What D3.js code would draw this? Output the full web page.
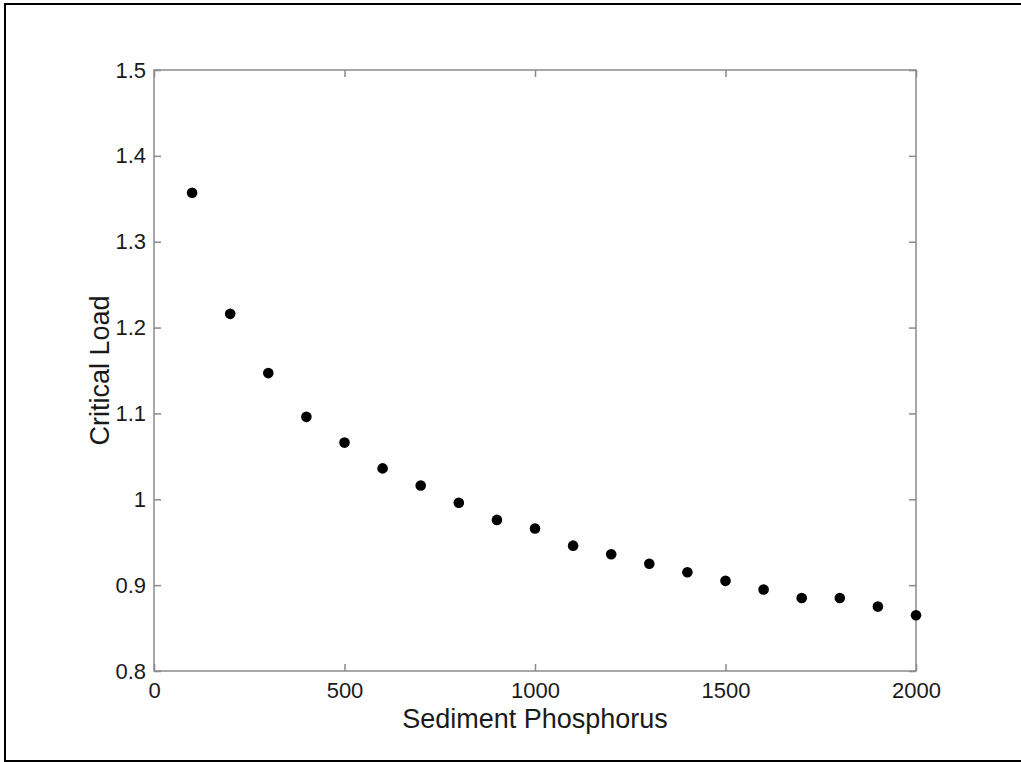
<!DOCTYPE html>
<html>
<head>
<meta charset="utf-8">
<script src="https://cdn.jsdelivr.net/npm/d3@7"></script>
<style>
  body { margin: 0; background: #fff; overflow: hidden; }
  svg { display: block; font-family: "Liberation Sans", Arial, sans-serif; }
</style>
</head>
<body>
<svg width="1021" height="762"></svg>
<script>
// sediment phosphorus vs critical load
const phosphorus = [100, 200, 300, 400, 500, 600, 700, 800, 900, 1000,
                    1100, 1200, 1300, 1400, 1500, 1600, 1700, 1800, 1900, 2000];
const criticalLoad = [1.357, 1.216, 1.147, 1.096, 1.066, 1.036, 1.016, 0.996, 0.976, 0.966,
                      0.946, 0.936, 0.925, 0.915, 0.905, 0.895, 0.885, 0.885, 0.875, 0.865];
const xTicks = [0, 500, 1000, 1500, 2000];
const yTicks = [0.8, 0.9, 1, 1.1, 1.2, 1.3, 1.4, 1.5];

const svg = d3.select("svg");
const plotL = 154, plotR = 916, plotT = 70, plotB = 671;
const axisColor = "#8a8a8a", textColor = "#1a1a1a";

// outer frame (right edge runs off the picture)
svg.append("rect")
  .attr("x", 5).attr("y", 4)
  .attr("width", 1100).attr("height", 757)
  .attr("fill", "none")
  .attr("stroke", "#000")
  .attr("stroke-width", 2);

const x = d3.scaleLinear().domain([0, 2000]).range([plotL, plotR]);
const y = d3.scaleLinear().domain([0.8, 1.5]).range([plotB, plotT]);

const fmtY = d => d3.format("~g")(d);

// box + ticks on all sides, ticks pointing in
const tick = 7;
function styleAxis(g, labels) {
  g.attr("font-size", 22).attr("font-family", "Liberation Sans, Arial, sans-serif");
  g.select(".domain").remove();
  g.selectAll(".tick line").attr("stroke", axisColor).attr("stroke-width", 1.5);
  g.selectAll(".tick text")
    .attr("fill", textColor)
    .style("display", labels ? null : "none");
}

svg.append("g")
  .attr("transform", `translate(0,${plotB})`)
  .call(d3.axisBottom(x).tickValues(xTicks).tickSize(-tick).tickPadding(11).tickFormat(d3.format("d")))
  .call(g => styleAxis(g, true));

svg.append("g")
  .attr("transform", `translate(0,${plotT})`)
  .call(d3.axisTop(x).tickValues(xTicks).tickSize(-tick))
  .call(g => styleAxis(g, false));

svg.append("g")
  .attr("transform", `translate(${plotL},0)`)
  .call(d3.axisLeft(y).tickValues(yTicks).tickSize(-tick).tickPadding(8).tickFormat(fmtY))
  .call(g => styleAxis(g, true));

svg.append("g")
  .attr("transform", `translate(${plotR},0)`)
  .call(d3.axisRight(y).tickValues(yTicks).tickSize(-tick))
  .call(g => styleAxis(g, false));

svg.append("rect")
  .attr("x", plotL).attr("y", plotT)
  .attr("width", plotR - plotL).attr("height", plotB - plotT)
  .attr("fill", "none")
  .attr("stroke", axisColor)
  .attr("stroke-width", 1.5);

// points
svg.append("g")
  .selectAll("circle")
  .data(phosphorus.map((p, i) => ({p, c: criticalLoad[i]})))
  .join("circle")
  .attr("cx", d => x(d.p))
  .attr("cy", d => y(d.c))
  .attr("r", 5.3)
  .attr("fill", "#000");

// axis titles
svg.append("text")
  .attr("x", (plotL + plotR) / 2)
  .attr("y", 728)
  .attr("text-anchor", "middle")
  .attr("font-size", 27)
  .attr("fill", textColor)
  .text("Sediment Phosphorus");

svg.append("text")
  .attr("transform", `translate(109,${(plotT + plotB) / 2}) rotate(-90)`)
  .attr("text-anchor", "middle")
  .attr("font-size", 27)
  .attr("fill", textColor)
  .text("Critical Load");
</script>
</body>
</html>
